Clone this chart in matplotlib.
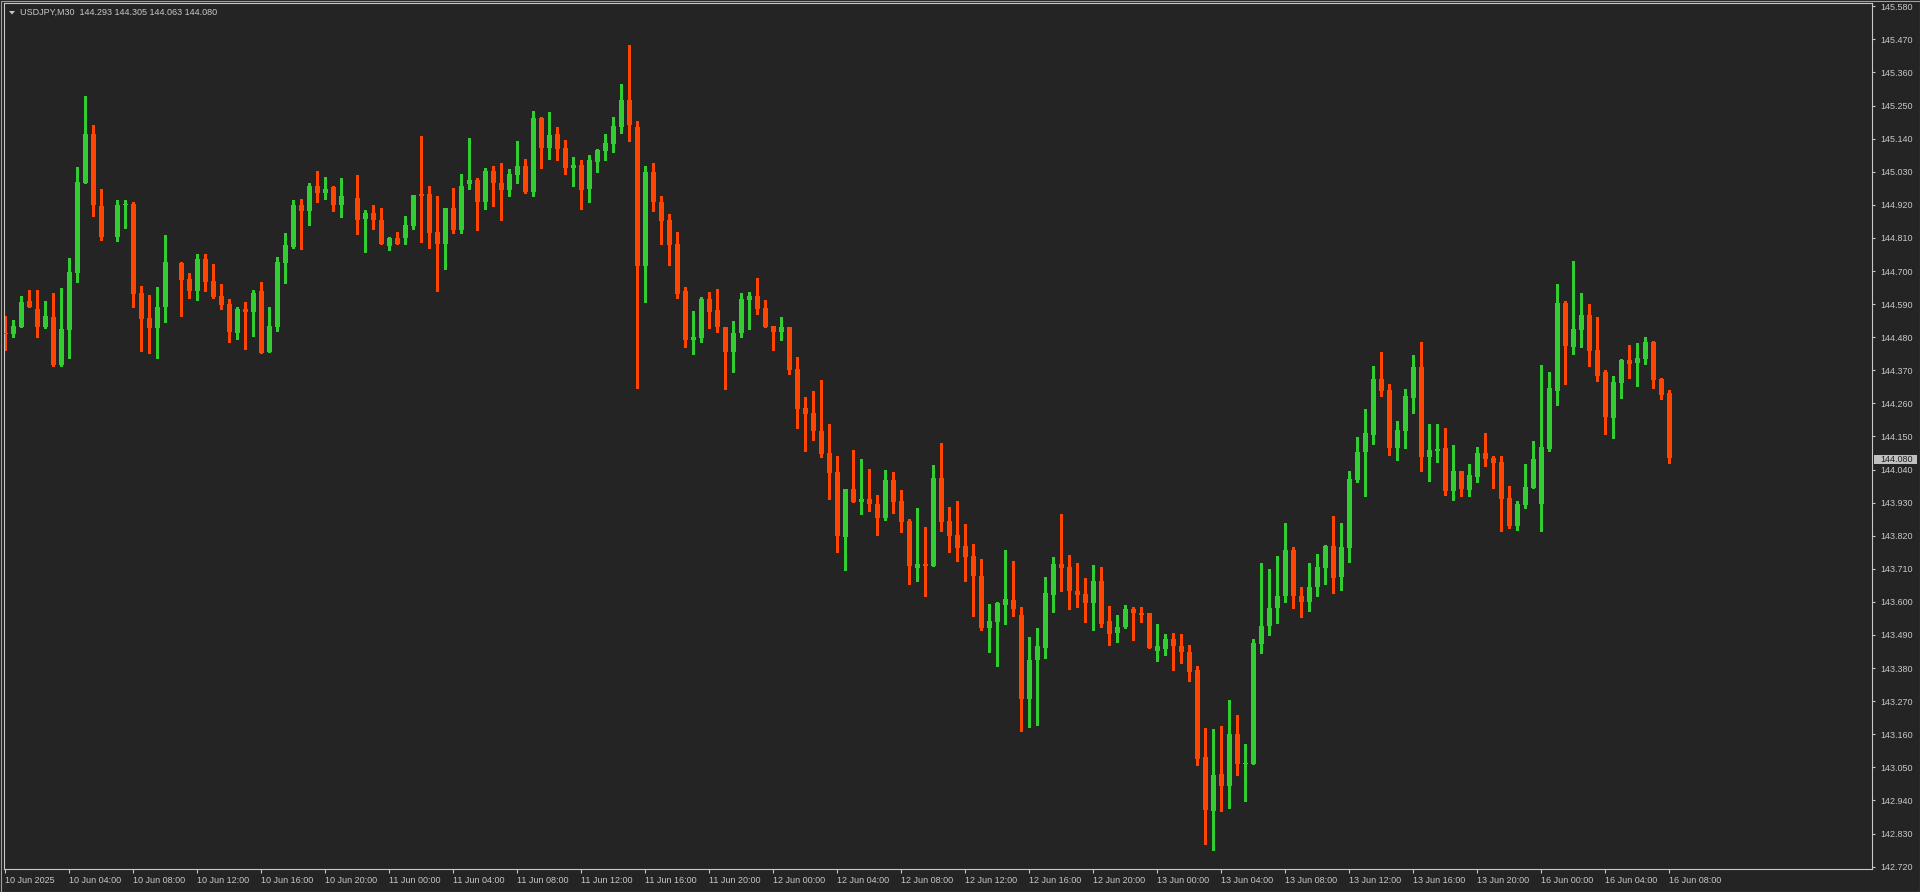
import matplotlib
matplotlib.use("Agg")
import matplotlib.pyplot as plt
from matplotlib.patches import Rectangle, Polygon
import numpy as np

# ---------------- data (USDJPY M30) ----------------
symbol = "USDJPY,M30"
header_ohlc = ["144.293", "144.305", "144.063", "144.080"]
last_price = 144.080

# one row per bar: open, high, low, close (None = empty slot)
bars = [
    (144.493, 144.549, 144.438, 144.491), (144.491, 144.537, 144.482, 144.517),
    (144.515, 144.618, 144.515, 144.597), (144.601, 144.637, 144.581, 144.581),
    (144.574, 144.637, 144.482, 144.515), (144.514, 144.601, 144.509, 144.551),
    (144.548, 144.628, 144.384, 144.388), (144.388, 144.644, 144.384, 144.508),
    (144.505, 144.744, 144.412, 144.698), (144.695, 145.047, 144.662, 144.997),
    (144.994, 145.281, 144.994, 145.154), (145.154, 145.187, 144.882, 144.919),
    (144.917, 144.974, 144.802, 144.812), None,
    (144.812, 144.937, 144.799, 144.921), (144.919, 144.937, 144.842, 144.924),
    (144.924, 144.931, 144.579, 144.625), (144.628, 144.651, 144.435, 144.542),
    (144.544, 144.621, 144.429, 144.509), (144.512, 144.648, 144.412, 144.581),
    (144.579, 144.821, 144.529, 144.731), None,
    (144.728, 144.731, 144.549, 144.669), (144.674, 144.694, 144.609, 144.632),
    (144.632, 144.758, 144.605, 144.741), (144.741, 144.758, 144.632, 144.665),
    (144.668, 144.724, 144.609, 144.615), (144.618, 144.658, 144.575, 144.588),
    (144.591, 144.608, 144.465, 144.498), (144.495, 144.581, 144.475, 144.575),
    (144.575, 144.598, 144.441, 144.565), (144.565, 144.638, 144.485, 144.628),
    (144.635, 144.665, 144.428, 144.428), (144.431, 144.581, 144.431, 144.518),
    (144.515, 144.745, 144.501, 144.731), (144.728, 144.825, 144.661, 144.785),
    (144.781, 144.935, 144.778, 144.918), (144.918, 144.938, 144.774, 144.898),
    (144.898, 144.991, 144.854, 144.984), (144.984, 145.034, 144.931, 144.958),
    (144.958, 145.011, 144.941, 144.974), (144.978, 144.984, 144.898, 144.918),
    (144.918, 145.008, 144.881, 144.948), None,
    (144.944, 145.018, 144.824, 144.871), (144.874, 144.904, 144.764, 144.894),
    (144.894, 144.921, 144.838, 144.868), (144.871, 144.911, 144.791, 144.791),
    (144.784, 144.814, 144.771, 144.811), (144.811, 144.831, 144.791, 144.791),
    (144.811, 144.884, 144.791, 144.854), (144.851, 144.954, 144.841, 144.954),
    (144.956, 145.148, 144.798, 144.951), (144.955, 144.981, 144.775, 144.825),
    (144.831, 144.951, 144.635, 144.791), (144.791, 144.911, 144.708, 144.908),
    (144.908, 144.975, 144.825, 144.835), (144.835, 145.024, 144.825, 144.984),
    (144.988, 145.141, 144.974, 145.004), (145.004, 145.008, 144.835, 144.931),
    (144.931, 145.041, 144.905, 145.031), (145.031, 145.048, 144.915, 144.991),
    (144.994, 145.058, 144.871, 144.968), (144.968, 145.038, 144.948, 145.021),
    (145.018, 145.131, 144.991, 145.048), (145.048, 145.071, 144.958, 144.964),
    (144.964, 145.231, 144.951, 145.208), (145.208, 145.211, 145.041, 145.108),
    (145.108, 145.228, 145.071, 145.151), (145.154, 145.178, 145.068, 145.104),
    (145.108, 145.134, 145.021, 145.044), (145.044, 145.078, 144.984, 145.051),
    (145.054, 145.068, 144.905, 144.968), (144.971, 145.084, 144.928, 145.068),
    (145.064, 145.104, 145.028, 145.101), (145.098, 145.154, 145.068, 145.124),
    (145.121, 145.211, 145.094, 145.181), (145.178, 145.321, 145.158, 145.268),
    (145.268, 145.451, 145.131, 145.184), (145.180, 145.200, 144.310, 144.718),
    (144.718, 145.050, 144.596, 145.030), (145.030, 145.060, 144.900, 144.930),
    (144.930, 144.950, 144.791, 144.866), (144.871, 144.888, 144.721, 144.788),
    (144.791, 144.831, 144.611, 144.625), (144.635, 144.648, 144.448, 144.471),
    (144.471, 144.568, 144.425, 144.481), (144.478, 144.615, 144.465, 144.608),
    (144.608, 144.631, 144.511, 144.565), (144.571, 144.641, 144.498, 144.515),
    (144.515, 144.515, 144.308, 144.431), (144.431, 144.535, 144.365, 144.495),
    (144.495, 144.628, 144.481, 144.608), (144.605, 144.631, 144.508, 144.618),
    (144.618, 144.678, 144.558, 144.575), (144.578, 144.605, 144.515, 144.515),
    (144.518, 144.518, 144.438, 144.498), (144.498, 144.548, 144.471, 144.515),
    (144.515, 144.515, 144.358, 144.371), (144.375, 144.415, 144.178, 144.242),
    (144.245, 144.282, 144.102, 144.225), (144.228, 144.301, 144.138, 144.168),
    (144.168, 144.338, 144.082, 144.092), (144.095, 144.192, 143.942, 144.028),
    (144.032, 144.085, 143.765, 143.818), (143.815, 143.975, 143.705, 143.975),
    (143.975, 144.105, 143.931, 143.931), (143.931, 144.075, 143.891, 143.941),
    (143.941, 144.041, 143.901, 143.925), (143.925, 143.955, 143.821, 143.878),
    (143.878, 144.038, 143.871, 144.005), (144.005, 144.031, 143.895, 143.931),
    (143.935, 143.971, 143.831, 143.865), (143.868, 143.875, 143.661, 143.718),
    (143.711, 143.911, 143.668, 143.725), (143.725, 143.848, 143.618, 143.718),
    (143.718, 144.055, 143.718, 144.011), (144.011, 144.128, 143.835, 143.865),
    (143.868, 143.915, 143.765, 143.818), (143.821, 143.935, 143.735, 143.778),
    (143.785, 143.858, 143.671, 143.748), (143.751, 143.791, 143.552, 143.685),
    (143.685, 143.741, 143.508, 143.512), (143.512, 143.592, 143.435, 143.535),
    (143.532, 143.598, 143.388, 143.595), (143.588, 143.771, 143.528, 143.608),
    (143.605, 143.735, 143.552, 143.575), (143.558, 143.582, 143.172, 143.278),
    (143.278, 143.482, 143.185, 143.408), (143.408, 143.512, 143.192, 143.452),
    (143.448, 143.682, 143.412, 143.628), (143.622, 143.748, 143.565, 143.725),
    (143.725, 143.892, 143.635, 143.712), (143.715, 143.755, 143.575, 143.635),
    (143.635, 143.728, 143.582, 143.622), (143.625, 143.678, 143.532, 143.595),
    (143.595, 143.722, 143.508, 143.668), (143.668, 143.715, 143.518, 143.528),
    (143.535, 143.585, 143.458, 143.492), (143.495, 143.558, 143.468, 143.515),
    (143.518, 143.588, 143.512, 143.578), (143.578, 143.582, 143.472, 143.562),
    (143.562, 143.582, 143.532, 143.558), (143.562, 143.562, 143.448, 143.448),
    (143.438, 143.525, 143.405, 143.455), (143.442, 143.492, 143.425, 143.475),
    (143.475, 143.498, 143.372, 143.452), (143.452, 143.492, 143.398, 143.435),
    (143.435, 143.458, 143.338, 143.368), (143.372, 143.388, 143.059, 143.079),
    (143.085, 143.182, 142.795, 142.909), (142.905, 143.179, 142.775, 143.025),
    (143.029, 143.189, 142.905, 142.989), (142.989, 143.275, 142.915, 143.162),
    (143.162, 143.225, 143.025, 143.062), (143.062, 143.129, 142.939, 143.065),
    (143.062, 143.475, 143.062, 143.462), (143.460, 143.730, 143.430, 143.520),
    (143.520, 143.708, 143.490, 143.580), (143.580, 143.752, 143.530, 143.620),
    (143.620, 143.862, 143.600, 143.772), (143.772, 143.782, 143.580, 143.620),
    (143.620, 143.650, 143.550, 143.600), (143.600, 143.728, 143.570, 143.650),
    (143.650, 143.758, 143.620, 143.715), (143.712, 143.790, 143.660, 143.785),
    (143.785, 143.885, 143.630, 143.678), (143.682, 143.862, 143.640, 143.782),
    (143.778, 144.035, 143.732, 144.008), (144.005, 144.148, 143.998, 144.098),
    (144.098, 144.241, 143.951, 144.161), (144.155, 144.385, 144.125, 144.341),
    (144.341, 144.431, 144.285, 144.301), (144.305, 144.325, 144.088, 144.111),
    (144.111, 144.201, 144.071, 144.171), (144.168, 144.308, 144.111, 144.285),
    (144.278, 144.421, 144.228, 144.381), (144.381, 144.465, 144.035, 144.081),
    (144.081, 144.191, 144.001, 144.105), (144.101, 144.191, 144.065, 144.108),
    (144.111, 144.178, 143.955, 143.968), (143.968, 144.121, 143.938, 144.035),
    (144.035, 144.035, 143.951, 143.975), (143.971, 144.058, 143.951, 144.021),
    (144.015, 144.115, 143.998, 144.095), (144.095, 144.161, 144.051, 144.075),
    (144.078, 144.085, 143.978, 144.061), (144.065, 144.085, 143.835, 143.941),
    (143.945, 143.985, 143.845, 143.851), (143.851, 143.935, 143.838, 143.925),
    (143.921, 144.058, 143.911, 143.981), (143.978, 144.135, 143.978, 144.075),
    (143.925, 144.388, 143.835, 144.115), (144.108, 144.364, 144.101, 144.311),
    (144.301, 144.658, 144.254, 144.594), (144.594, 144.601, 144.325, 144.451),
    (144.448, 144.734, 144.424, 144.508), (144.504, 144.628, 144.448, 144.554),
    (144.554, 144.591, 144.384, 144.434), (144.438, 144.548, 144.334, 144.351),
    (144.364, 144.371, 144.158, 144.215), (144.211, 144.351, 144.145, 144.331),
    (144.328, 144.408, 144.278, 144.404), (144.404, 144.454, 144.344, 144.391),
    (144.394, 144.461, 144.318, 144.411), (144.408, 144.481, 144.391, 144.464),
    (144.464, 144.468, 144.311, 144.338), (144.341, 144.344, 144.274, 144.288),
    (144.293, 144.305, 144.063, 144.080),
]

time_labels = ["10 Jun 2025", "10 Jun 04:00", "10 Jun 08:00", "10 Jun 12:00",
               "10 Jun 16:00", "10 Jun 20:00", "11 Jun 00:00", "11 Jun 04:00",
               "11 Jun 08:00", "11 Jun 12:00", "11 Jun 16:00", "11 Jun 20:00",
               "12 Jun 00:00", "12 Jun 04:00", "12 Jun 08:00", "12 Jun 12:00",
               "12 Jun 16:00", "12 Jun 20:00", "13 Jun 00:00", "13 Jun 04:00",
               "13 Jun 08:00", "13 Jun 12:00", "13 Jun 16:00", "13 Jun 20:00",
               "16 Jun 00:00", "16 Jun 04:00", "16 Jun 08:00"]
bars_per_label = 8

price_ticks = [142.720 + 0.110 * k for k in range(27)]

# ---------------- style ----------------
BG = "#242424"
UP = "#32cd32"
DN = "#ff4500"
FRAME = "#c8c8c8"
TXT = "#c8c8c8"
FONT = "Liberation Sans"
FS = 6.5

W, H = 1920, 892
fig = plt.figure(figsize=(W / 100, H / 100), dpi=100, facecolor=BG)


def fx(x):
    return x / W


def fy(y):
    return 1 - y / H


ax_left, ax_right, ax_top, ax_bot = 4.0, 1872.0, 2.75, 869.0
ax = fig.add_axes([fx(ax_left), fy(ax_bot), (ax_right - ax_left) / W,
                   (ax_bot - ax_top) / H], facecolor=BG)

# price scale: 144.080 sits at y=457.5 px, ~300.8 px per 1.000
ppu = 300.8
y_ref_px, y_ref_p = 457.5, 144.080
ax.set_ylim(y_ref_p - (ax_bot - y_ref_px) / ppu, y_ref_p + (y_ref_px - ax_top) / ppu)
# bars: centre of bar i at 5.3 + 8*i px
ax.set_xlim((ax_left - 5.3) / 8.0, (ax_right - 5.3) / 8.0)

n = len(bars)
idx = np.arange(n)
valid = [b is not None for b in bars]
o = np.array([b[0] if b else np.nan for b in bars])
h = np.array([b[1] if b else np.nan for b in bars])
l = np.array([b[2] if b else np.nan for b in bars])
c = np.array([b[3] if b else np.nan for b in bars])

px_unit = 1.0 / ppu
for i in idx:
    if not valid[i]:
        continue
    up = c[i] >= o[i]
    col = UP if up else DN
    ax.vlines(i, l[i], h[i], colors=col, linewidth=0.75, antialiased=False, zorder=2)
    lo = min(o[i], c[i])
    hi = max(o[i], c[i])
    height = max(hi - lo, px_unit * 1.2)
    ax.bar(i, height, bottom=lo, width=0.625, color=col, linewidth=0,
           antialiased=False, zorder=3)

# axes frame
for s in ax.spines.values():
    s.set_color(FRAME)
    s.set_linewidth(0.8)

# right price axis
ax.yaxis.tick_right()
ax.set_yticks(price_ticks)
ax.set_yticklabels([f"{p:.3f}" for p in price_ticks])
ax.tick_params(axis="y", which="both", right=True, left=False, length=2,
               width=0.8, color=FRAME, pad=4, labelsize=FS, labelcolor=TXT)
for t in ax.get_yticklabels():
    t.set_fontfamily(FONT)

# bottom time axis
xt = [k * bars_per_label for k in range(len(time_labels))]
ax.set_xticks(xt)
ax.set_xticklabels(time_labels)
ax.tick_params(axis="x", which="both", bottom=True, top=False, length=3,
               width=0.8, color=FRAME, pad=2, labelsize=FS, labelcolor=TXT)
for t in ax.get_xticklabels():
    t.set_fontfamily(FONT)
    t.set_horizontalalignment("left")

# current price marker
box_y0, box_y1 = 455.0, 463.5
fig.patches.append(Rectangle((fx(1874), fy(box_y1)), (1917 - 1874) / W,
                             (box_y1 - box_y0) / H, transform=fig.transFigure,
                             facecolor="#c0c0c0", edgecolor="none", zorder=5))
fig.text(fx(1880), fy((box_y0 + box_y1) / 2), f"{last_price:.3f}", color="#202020",
         fontsize=FS, family=FONT, ha="left", va="center", zorder=6)

# header
fig.patches.append(Polygon([(fx(9), fy(11)), (fx(15), fy(11)), (fx(12), fy(14.5))],
                           closed=True, transform=fig.transFigure,
                           facecolor=TXT, edgecolor="none", zorder=5))
fig.text(fx(20), fy(12.5), symbol + "  " + " ".join(header_ohlc), color=TXT,
         fontsize=FS, family=FONT, ha="left", va="center", zorder=6)

# window border
fig.patches.append(Rectangle((fx(0.5), fy(891.5)), (W - 1) / W, (H - 1) / H,
                             transform=fig.transFigure, facecolor="none",
                             edgecolor="#a0a0a0", linewidth=0.8, zorder=1))

fig.savefig("out.png", dpi=100, facecolor=BG)
